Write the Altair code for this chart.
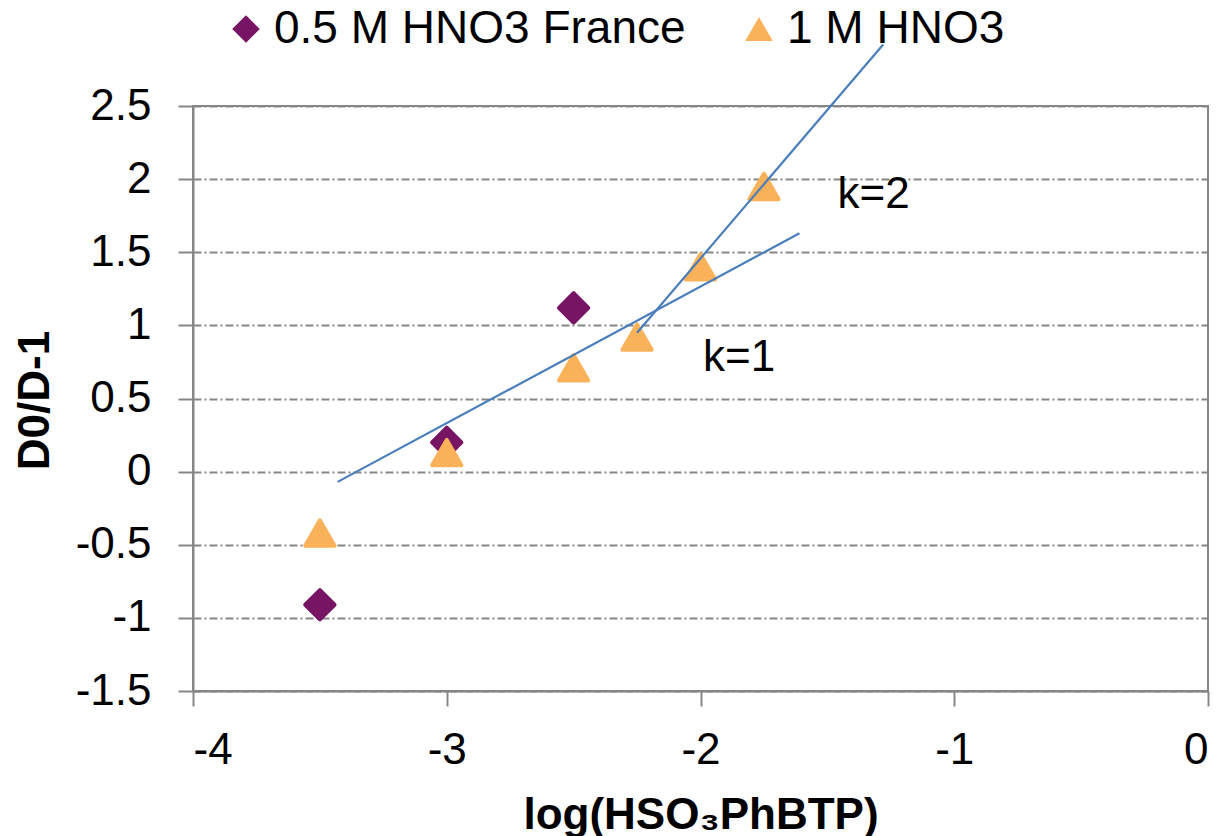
import altair as alt
import pandas as pd

# ---- data ----
series_a = "0.5 M HNO3 France"
series_b = "1 M HNO3"
x_a = [-3.5, -3.0, -2.5]
y_a = [-0.91, 0.20, 1.12]
x_b = [-3.5, -3.0, -2.5, -2.25, -2.0, -1.75]
y_b = [-0.42, 0.13, 0.71, 0.92, 1.40, 1.95]

fit_names = ["k=1", "k=1", "k=2", "k=2"]
fit_x = [-3.43, -1.61, -2.25, -1.28]
fit_y = [-0.07, 1.63, 0.95, 2.92]

label_text = ["k=2", "k=1"]
label_x = [-1.46, -1.99]
label_y = [1.80, 0.685]

x_ticks = [-4, -3, -2, -1, 0]
y_ticks = [-1.5, -1, -0.5, 0, 0.5, 1, 1.5, 2, 2.5]

PURPLE = "#771463"
ORANGE = "#F9B25A"
BLUE = "#4A7EBB"
GRAY = "#868686"
FONT = "Liberation Sans"

points = pd.DataFrame({
    "x": x_a + x_b,
    "y": y_a + y_b,
    "series": [series_a] * len(x_a) + [series_b] * len(x_b),
})
fits = pd.DataFrame({"x": fit_x, "y": fit_y, "k": fit_names})
labels = pd.DataFrame({"x": label_x, "y": label_y, "text": label_text})

xscale = alt.Scale(domain=[-4, 0], nice=False, zero=False)
yscale = alt.Scale(domain=[-1.5, 2.5], nice=False, zero=False)

X = alt.X("x:Q", scale=xscale, axis=alt.Axis(
    values=x_ticks, grid=False, title="log(HSO₃PhBTP)",
    labelExpr="'' + datum.value", labelPadding=22,
    titleY=137, titleBaseline="alphabetic", titleFontWeight="bold",
))
Y = alt.Y("y:Q", scale=yscale, axis=alt.Axis(
    values=y_ticks, grid=True, gridDash=[8, 3, 2, 3], gridColor=GRAY, gridWidth=2,
    title="D0/D-1", labelExpr="'' + datum.value", labelPadding=27,
    titleAngle=270, titleX=-158, titleY=294, titleAlign="center",
    titleBaseline="middle", titleFontWeight="bold",
))

domain = [series_a, series_b]
color_scale = alt.Scale(domain=domain, range=[PURPLE, ORANGE])
shape_scale = alt.Scale(domain=domain, range=["diamond", "triangle-up"])

pts = alt.Chart(points).mark_point(
    filled=True, size=860, opacity=1, strokeWidth=4, strokeJoin="round"
).encode(
    x=X, y=Y,
    color=alt.Color("series:N", scale=color_scale, legend=alt.Legend(title=None)),
    shape=alt.Shape("series:N", scale=shape_scale, legend=alt.Legend(title=None)),
    stroke=alt.Stroke("series:N", scale=color_scale, legend=None),
    order=alt.Order("series:N"),
)

lines = alt.Chart(fits).mark_line(color=BLUE, strokeWidth=2.2, clip=False).encode(
    x=X, y=Y, detail="k:N"
)

texts = alt.Chart(labels).mark_text(
    align="left", baseline="alphabetic", fontSize=44, font=FONT, color="black"
).encode(x=X, y=Y, text="text:N")

chart = alt.layer(pts, lines, texts).properties(
    width=1015, height=585,
    autosize=alt.AutoSizeParams(type="none"),
    padding={"left": 193, "top": 106, "right": 14, "bottom": 145},
    background="white",
).configure_view(
    stroke=GRAY, strokeWidth=2
).configure_axis(
    labelFont=FONT, labelFontSize=44, labelColor="black",
    titleFont=FONT, titleFontSize=44, titleColor="black",
    domainColor=GRAY, domainWidth=2, tickColor=GRAY, tickWidth=2, tickSize=15,
).configure_legend(
    orient="none", legendX=30, legendY=-100, direction="horizontal",
    labelFont=FONT, labelFontSize=46, labelColor="black", labelLimit=800,
    symbolSize=760, symbolStrokeWidth=0, labelOffset=5, columnPadding=50,
    padding=0,
)

chart.save("out.html", embed_options={"renderer": "svg", "actions": False})
